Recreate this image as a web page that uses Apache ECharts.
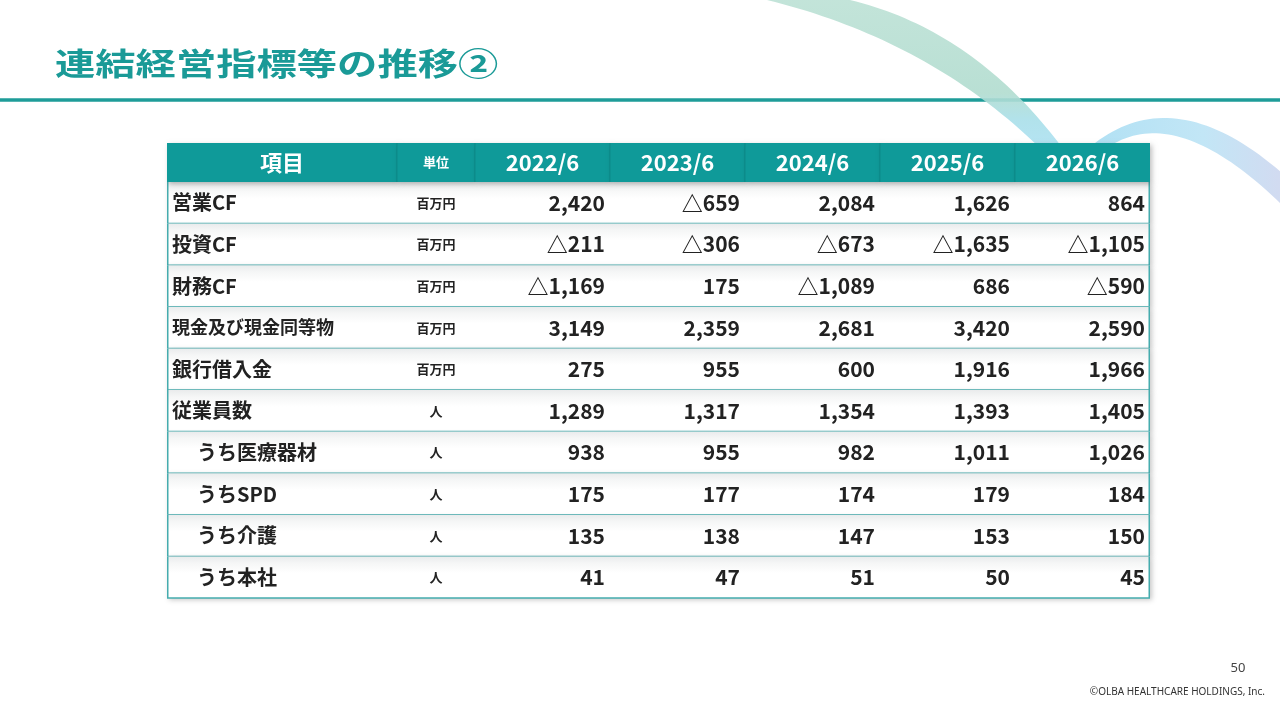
<!DOCTYPE html>
<html>
<head>
<meta charset="utf-8">
<script src="https://cdn.jsdelivr.net/npm/echarts@6.0.0/dist/echarts.min.js"></script>
<style>
html, body { margin: 0; padding: 0; background: #fff; }
#chart { width: 1280px; height: 720px; }
</style>
</head>
<body>
<div id="chart"></div>
<script>
var titleText = '連結経営指標等の推移②';
var headItem = '項目';
var headUnit = '単位';
var years = ['2022/6', '2023/6', '2024/6', '2025/6', '2026/6'];
var items = ['営業CF', '投資CF', '財務CF', '現金及び現金同等物', '銀行借入金',
             '従業員数', 'うち医療器材', 'うちSPD', 'うち介護', 'うち本社'];
var units = ['百万円', '百万円', '百万円', '百万円', '百万円', '人', '人', '人', '人', '人'];

// negative numbers are shown with △
var v2022 = [2420, -211, -1169, 3149, 275, 1289, 938, 175, 135, 41];
var v2023 = [-659, -306, 175, 2359, 955, 1317, 955, 177, 138, 47];
var v2024 = [2084, -673, -1089, 2681, 600, 1354, 982, 174, 147, 51];
var v2025 = [1626, -1635, 686, 3420, 1916, 1393, 1011, 179, 153, 50];
var v2026 = [864, -1105, -590, 2590, 1966, 1405, 1026, 184, 150, 45];
var values = [v2022, v2023, v2024, v2025, v2026];

var pageNo = '50';
var copyright = '©OLBA HEALTHCARE HOLDINGS, Inc.';

// column layout (width units on the x value axis)
var colWidths = [230, 78, 135, 135, 135, 135, 135];
var colEdges = [0];
for (var i = 0; i < colWidths.length; i++) {
    colEdges.push(colEdges[i] + colWidths[i]);
}
var tableWidth = colEdges[colEdges.length - 1];

var TEAL = '#0f9a99';
var LINE = '#45acae';
var FONT = '"Noto Sans CJK JP", "Noto Sans", sans-serif';

function fmt(v) {
    var s = Math.abs(v).toString().replace(/\B(?=(\d{3})+(?!\d))/g, ',');
    return v < 0 ? '△' + s : s;
}

// decorative swoosh: two quadratic edges joined into one polygon
function swoosh(a0, a1, a2, b0, b1, b2) {
    var pts = [];
    var n = 40, t, k;
    for (k = 0; k <= n; k++) {
        t = k / n;
        pts.push([
            (1 - t) * (1 - t) * a0[0] + 2 * t * (1 - t) * a1[0] + t * t * a2[0],
            (1 - t) * (1 - t) * a0[1] + 2 * t * (1 - t) * a1[1] + t * t * a2[1]
        ]);
    }
    for (k = 0; k <= n; k++) {
        t = k / n;
        pts.push([
            (1 - t) * (1 - t) * b0[0] + 2 * t * (1 - t) * b1[0] + t * t * b2[0],
            (1 - t) * (1 - t) * b0[1] + 2 * t * (1 - t) * b1[1] + t * t * b2[1]
        ]);
    }
    return pts;
}

var headLabels = [headItem, headUnit].concat(years);

// body cells
var cells = [];
for (var r = 0; r < items.length; r++) {
    cells.push({ col: 0, row: r, text: items[r], kind: 'item' });
    cells.push({ col: 1, row: r, text: units[r], kind: 'unit' });
    for (var y = 0; y < years.length; y++) {
        cells.push({ col: 2 + y, row: r, text: fmt(values[y][r]), kind: 'value' });
    }
}

var myChart = echarts.init(document.getElementById('chart'), null, { renderer: 'canvas' });

var option = {
    backgroundColor: '#fff',
    animation: false,
    grid: [
        { left: 167, top: 143, width: tableWidth, height: 39 },
        { left: 167, top: 182, width: tableWidth, height: 416 }
    ],
    xAxis: [
        { gridIndex: 0, type: 'value', min: 0, max: tableWidth, show: false },
        { gridIndex: 1, type: 'value', min: 0, max: tableWidth, show: false }
    ],
    yAxis: [
        { gridIndex: 0, type: 'category', data: ['head'], show: false },
        { gridIndex: 1, type: 'category', data: items, inverse: true, show: false }
    ],
    graphic: [
        {
            type: 'line', z: 1,
            shape: { x1: 0, y1: 100, x2: 1280, y2: 100 },
            style: { stroke: '#1e9c99', lineWidth: 3.5 }
        },
        {
            type: 'polygon', z: 2,
            shape: { points: swoosh([767, 0], [930, 40], [1042, 150], [1064, 150], [975, 30], [850, 0]) },
            style: {
                fill: new echarts.graphic.LinearGradient(0, 0, 0, 1, [
                    { offset: 0, color: '#bce1d5' },
                    { offset: 0.62, color: '#b1dccf' },
                    { offset: 0.8, color: '#a9dfe9' },
                    { offset: 1, color: '#ade1f3' }
                ]),
                opacity: 0.9
            }
        },
        {
            type: 'polygon', z: 2,
            shape: { points: swoosh([1095, 143], [1180, 78], [1292, 182], [1292, 215], [1185, 105], [1115, 143]) },
            style: {
                fill: new echarts.graphic.LinearGradient(0, 0, 1, 0, [
                    { offset: 0, color: '#b2e1f4' },
                    { offset: 0.55, color: '#c2e6f6' },
                    { offset: 1, color: '#d4d9f0' }
                ])
            }
        },
        {
            type: 'text', z: 3,
            x: 55, y: 63, scaleX: 1.3,
            style: {
                text: titleText,
                font: 'bold 31px ' + FONT,
                fill: '#1a9a97',
                align: 'left',
                verticalAlign: 'middle'
            }
        },
        {
            type: 'text',
            x: 1238, y: 668,
            style: { text: pageNo, font: '13px "Noto Sans"', fill: '#444', align: 'center', verticalAlign: 'middle' }
        },
        {
            type: 'text',
            x: 1265, y: 692,
            style: { text: copyright, font: '10px "Noto Sans"', fill: '#333', align: 'right', verticalAlign: 'middle' }
        }
    ],
    series: [
        {
            // header row
            type: 'custom',
            name: 'header',
            xAxisIndex: 0,
            yAxisIndex: 0,
            z: 5,
            data: headLabels.map(function (t, i) { return [i, 0]; }),
            renderItem: function (params, api) {
                var c = api.value(0);
                var p0 = api.coord([colEdges[c], 0]);
                var p1 = api.coord([colEdges[c + 1], 0]);
                var h = api.size([0, 1])[1];
                var top = p0[1] - h / 2;
                var size = c === 1 ? 13 : 22;
                var children = [
                    {
                        type: 'rect',
                        shape: { x: p0[0], y: top, width: p1[0] - p0[0], height: h },
                        style: { fill: TEAL, shadowBlur: 5, shadowOffsetX: 2, shadowOffsetY: 2, shadowColor: 'rgba(0,0,0,0.25)' }
                    },
                    {
                        type: 'text',
                        style: {
                            x: (p0[0] + p1[0]) / 2, y: p0[1],
                            text: headLabels[c],
                            font: 'bold ' + size + 'px ' + FONT,
                            fill: '#fff', align: 'center', verticalAlign: 'middle'
                        }
                    }
                ];
                if (c > 0) {
                    children.push({
                        type: 'line',
                        shape: { x1: p0[0], y1: top, x2: p0[0], y2: top + h },
                        style: { stroke: 'rgba(0,70,70,0.18)', lineWidth: 1 }
                    });
                }
                return { type: 'group', children: children };
            }
        },
        {
            // body row backgrounds and rules
            type: 'custom',
            name: 'rows',
            xAxisIndex: 1,
            yAxisIndex: 1,
            z: 3,
            data: items.map(function (t, i) { return [0, i]; }),
            renderItem: function (params, api) {
                var r = api.value(1);
                var pL = api.coord([0, r]);
                var pR = api.coord([tableWidth, r]);
                var h = api.size([0, 1])[1];
                var top = pL[1] - h / 2;
                var bottom = top + h;
                return {
                    type: 'group',
                    children: [
                        {
                            type: 'rect',
                            shape: { x: pL[0], y: top, width: pR[0] - pL[0], height: h },
                            style: {
                                fill: new echarts.graphic.LinearGradient(0, 0, 0, 1, [
                                    { offset: 0, color: '#e9ebec' },
                                    { offset: 0.16, color: '#f5f6f6' },
                                    { offset: 0.4, color: '#ffffff' },
                                    { offset: 1, color: '#ffffff' }
                                ]),
                                shadowBlur: 5, shadowOffsetX: 2, shadowOffsetY: 2,
                                shadowColor: 'rgba(0,0,0,0.22)'
                            }
                        },
                        {
                            type: 'line',
                            shape: { x1: pL[0], y1: bottom, x2: pR[0], y2: bottom },
                            style: { stroke: LINE, lineWidth: 1.5 }
                        },
                        {
                            type: 'line',
                            shape: { x1: pL[0] + 0.75, y1: top, x2: pL[0] + 0.75, y2: bottom },
                            style: { stroke: LINE, lineWidth: 1.5 }
                        },
                        {
                            type: 'line',
                            shape: { x1: pR[0] - 0.75, y1: top, x2: pR[0] - 0.75, y2: bottom },
                            style: { stroke: LINE, lineWidth: 1.5 }
                        }
                    ]
                };
            }
        },
        {
            // body cell texts
            type: 'custom',
            name: 'cells',
            xAxisIndex: 1,
            yAxisIndex: 1,
            z: 4,
            data: cells.map(function (c) { return [c.col, c.row]; }),
            renderItem: function (params, api) {
                var cell = cells[params.dataIndex];
                var c = cell.col;
                var p0 = api.coord([colEdges[c], cell.row]);
                var p1 = api.coord([colEdges[c + 1], cell.row]);
                var x, align, size;
                if (cell.kind === 'item') {
                    var indent = cell.text.indexOf('うち') === 0 ? 30 : 5;
                    x = p0[0] + indent;
                    align = 'left';
                    size = cell.text.length > 7 ? 18 : 20;
                } else if (cell.kind === 'unit') {
                    x = (p0[0] + p1[0]) / 2;
                    align = 'center';
                    size = 13;
                } else {
                    x = p1[0] - 5;
                    align = 'right';
                    size = 21;
                }
                return {
                    type: 'text',
                    style: {
                        x: x, y: p0[1],
                        text: cell.text,
                        font: 'bold ' + size + 'px ' + FONT,
                        fill: '#222', align: align, verticalAlign: 'middle'
                    }
                };
            }
        }
    ]
};

myChart.setOption(option);
window.onresize = myChart.resize;
</script>
</body>
</html>
